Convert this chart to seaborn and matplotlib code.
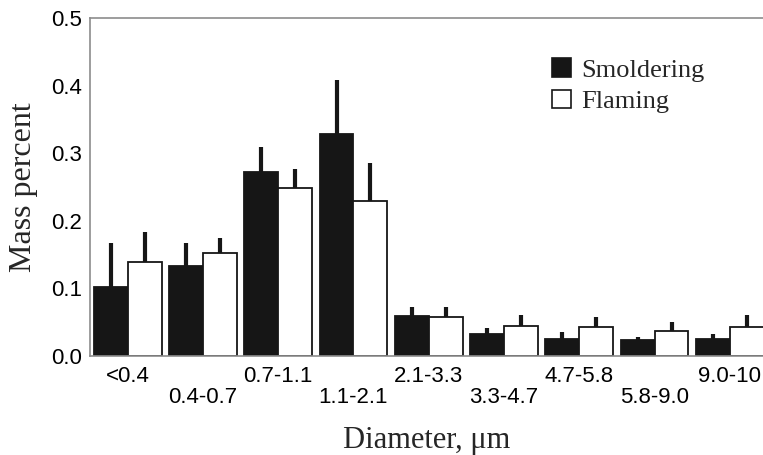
import numpy as np
import pandas as pd
import matplotlib
matplotlib.use("Agg")
import matplotlib.pyplot as plt
from matplotlib.patches import Patch
import seaborn as sns

categories = ["<0.4", "0.4-0.7", "0.7-1.1", "1.1-2.1", "2.1-3.3",
              "3.3-4.7", "4.7-5.8", "5.8-9.0", "9.0-10"]
smoldering = [0.102, 0.133, 0.272, 0.329, 0.059, 0.032, 0.025, 0.023, 0.025]
smoldering_err = [0.065, 0.034, 0.037, 0.080, 0.014, 0.010, 0.010, 0.005, 0.0075]
flaming = [0.139, 0.152, 0.249, 0.230, 0.057, 0.045, 0.043, 0.0365, 0.043]
flaming_err = [0.044, 0.023, 0.028, 0.056, 0.016, 0.015, 0.014, 0.0145, 0.017]
series = ["Smoldering", "Flaming"]
yticks = [0.0, 0.1, 0.2, 0.3, 0.4, 0.5]

df = pd.DataFrame({
    "Diameter": categories * 2,
    "Mass": smoldering + flaming,
    "Type": [series[0]] * len(categories) + [series[1]] * len(categories),
})

sns.set_style("white")
plt.rcParams["font.family"] = ["Liberation Sans", "DejaVu Sans"]

fig = plt.figure(figsize=(7.63, 4.55), dpi=100)
ax = fig.add_axes([90 / 763, 1 - 356 / 455, 673 / 763, 338 / 455])

dark = "#161616"
sns.barplot(data=df, x="Diameter", y="Mass", hue="Type", hue_order=series,
            order=categories, palette={"Smoldering": dark, "Flaming": "white"},
            edgecolor=dark, linewidth=1.3, width=0.9, gap=0, errorbar=None,
            legend=False, ax=ax)

errs = [smoldering_err, flaming_err]
for cont, err in zip(ax.containers, errs):
    for bar, e in zip(cont, err):
        xc = bar.get_x() + bar.get_width() / 2
        h = bar.get_height()
        ax.plot([xc, xc], [h, h + e], color=dark, lw=3, solid_capstyle="butt",
                zorder=1)

ax.set_xlim(-0.5, 8.44)
ax.set_ylim(0, 0.5)
ax.set_yticks(yticks)
ax.set_yticklabels([f"{v:.1f}" for v in yticks], fontsize=16)
ax.set_xticks(range(len(categories)))
ax.set_xticklabels(categories, fontsize=16)
ax.tick_params(axis="both", length=0, colors="black")
ax.tick_params(axis="y", pad=6)
for i, t in enumerate(ax.xaxis.get_major_ticks()):
    t.set_pad(7 if i % 2 == 0 else 22)

for s in ["left", "top", "bottom"]:
    ax.spines[s].set_color("#8c8c8c")
    ax.spines[s].set_linewidth(1.2)
ax.spines["right"].set_visible(False)

serif = ["Liberation Serif", "DejaVu Serif"]
ax.set_ylabel("Mass percent", fontsize=23, family=serif)
ax.yaxis.set_label_coords(-0.078, 0.5)
ax.set_xlabel("Diameter, μm", fontsize=22, family=serif)
ax.xaxis.set_label_coords(0.5, -0.208)

handles = [Patch(facecolor=dark, edgecolor=dark, lw=1.2),
           Patch(facecolor="white", edgecolor=dark, lw=1.2)]
ax.legend(handles, series, loc="upper left",
          bbox_to_anchor=((552 - 90) / 673, 1 - (58 - 18) / 338),
          frameon=False, prop={"family": serif, "size": 19},
          handlelength=0.72, handleheight=0.72, handletextpad=0.4,
          labelspacing=0.3, borderpad=0, borderaxespad=0)

fig.savefig("out.png", dpi=100)
